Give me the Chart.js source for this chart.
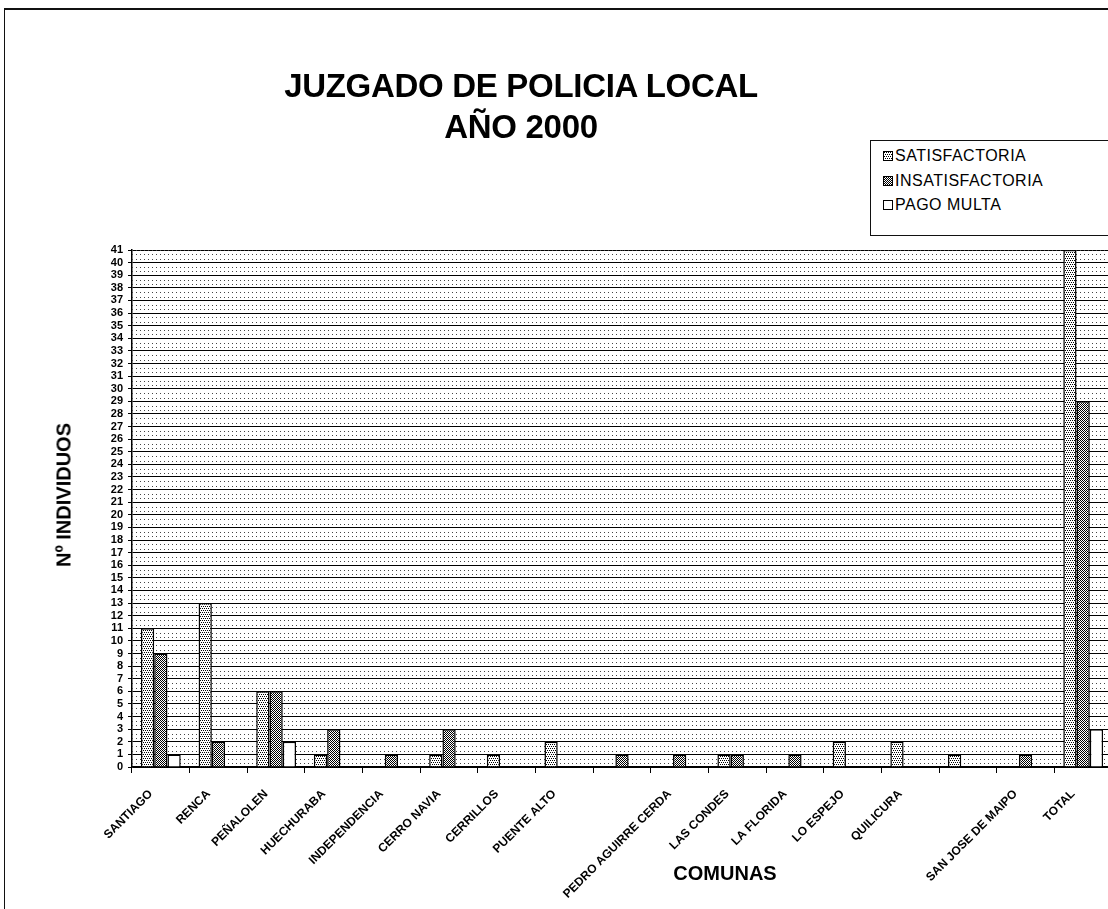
<!DOCTYPE html>
<html>
<head>
<meta charset="utf-8">
<script src="https://cdn.jsdelivr.net/npm/chart.js@4.4.0/dist/chart.umd.min.js"></script>
<style>
    html, body { margin: 0; padding: 0; background: #fff; overflow: hidden; }
    #wrap { position: relative; width: 1112px; height: 909px; font-family: 'Liberation Sans', Arial, sans-serif; color: #000; }
    #chart { position: absolute; left: 0; top: 0; }
    #frame { position: absolute; left: 4px; top: 8px; width: 1200px; height: 1000px; border-left: 1.5px solid #111; border-top: 2px solid #111; }
    #title { position: absolute; left: 521px; top: 65px; transform: translateX(-50%); text-align: center; font-weight: bold; font-size: 33px; line-height: 41px; letter-spacing: -0.3px; white-space: nowrap; }
    #legend { position: absolute; left: 870px; top: 140px; width: 260px; height: 94px; border: 1.5px solid #111; background: #fff; font-size: 16px; letter-spacing: 0.5px; }
    .item { position: absolute; left: 12px; display: flex; align-items: center; white-space: nowrap; }
    .sw { width: 8px; height: 8px; border: 1px solid #000; margin-right: 2px; }
    #ytitle { position: absolute; left: 64px; top: 495px; transform: translate(-50%, -50%) rotate(-90deg); font-weight: bold; font-size: 20px; white-space: nowrap; }
    #xtitle { position: absolute; left: 725px; top: 862px; transform: translateX(-50%); font-weight: bold; font-size: 20px; }
</style>
</head>
<body>
<div id="wrap">
    <div id="frame"></div>
    <canvas id="chart" width="1112" height="909"></canvas>
    <div id="title">JUZGADO DE POLICIA LOCAL<br>AÑO 2000</div>
    <div id="legend"></div>
    <div id="ytitle">Nº INDIVIDUOS</div>
    <div id="xtitle">COMUNAS</div>
</div>
<script>
// Data
const comunas = ['SANTIAGO', 'RENCA', 'PEÑALOLEN', 'HUECHURABA', 'INDEPENDENCIA', 'CERRO NAVIA', 'CERRILLOS',
    'PUENTE ALTO', '', 'PEDRO AGUIRRE CERDA', 'LAS CONDES', 'LA FLORIDA', 'LO ESPEJO', 'QUILICURA', '',
    'SAN JOSE DE MAIPO', 'TOTAL'];
const satisfactoria   = [11, 13, 6, 1, 0, 1, 1, 2, 0, 0, 1, 0, 2, 2, 1, 0, 41];
const insatisfactoria = [9, 2, 6, 3, 1, 3, 0, 0, 1, 1, 1, 1, 0, 0, 0, 1, 29];
const pagoMulta       = [1, 0, 2, 0, 0, 0, 0, 0, 0, 0, 0, 0, 0, 0, 0, 0, 3];
const seriesNames = ['SATISFACTORIA', 'INSATISFACTORIA', 'PAGO MULTA'];
const yMax = 41;

Chart.defaults.font.family = "'Liberation Sans', Arial, sans-serif";
Chart.defaults.color = '#000';

// Small dot tiles to imitate the printed fill patterns
function makeTile(dots, size) {
    const c = document.createElement('canvas');
    c.width = c.height = size;
    const g = c.getContext('2d');
    g.fillStyle = '#fff';
    g.fillRect(0, 0, size, size);
    g.fillStyle = '#000';
    dots.forEach(([x, y]) => g.fillRect(x, y, 1, 1));
    return c;
}
const satTile = makeTile([[0, 0], [2, 0], [1, 2], [3, 2]], 4);
const insatTile = makeTile([[0, 0], [2, 0], [1, 1], [3, 1], [0, 2], [2, 2], [1, 3], [3, 3]], 4);
const pagoTile = makeTile([], 4);
const tiles = [satTile, insatTile, pagoTile];

const ctx = document.getElementById('chart').getContext('2d');
const fills = tiles.map(t => ctx.createPattern(t, 'repeat'));

// Legend
const legend = document.getElementById('legend');
seriesNames.forEach((name, i) => {
    const item = document.createElement('div');
    item.className = 'item';
    item.style.top = (6 + i * 24.5) + 'px';
    item.innerHTML = `<span class="sw" style="background-image:url(${tiles[i].toDataURL()})"></span>${name}`;
    legend.appendChild(item);
});

// Dotted rows between the solid gridlines (and on the top line)
const dotGrid = {
    id: 'dotGrid',
    beforeDatasetsDraw(chart) {
        const { ctx, chartArea: a, scales: { y } } = chart;
        ctx.save();
        ctx.strokeStyle = '#444';
        ctx.lineWidth = 1;
        ctx.setLineDash([1, 3]);
        const rows = [yMax];
        for (let v = 0; v < yMax; v++) rows.push(v + 0.3, v + 0.65);
        rows.forEach(v => {
            const py = Math.round(y.getPixelForValue(v)) + 0.5;
            ctx.beginPath();
            ctx.moveTo(a.left, py);
            ctx.lineTo(a.right, py);
            ctx.stroke();
        });
        ctx.restore();
    }
};

new Chart(ctx, {
    type: 'bar',
    data: {
        labels: comunas,
        datasets: [satisfactoria, insatisfactoria, pagoMulta].map((d, i) => ({
            label: seriesNames[i],
            data: d,
            backgroundColor: fills[i],
            borderColor: '#000',
            borderWidth: 1.5
        }))
    },
    options: {
        responsive: false,
        animation: false,
        layout: { padding: { left: 0, right: 0, top: 250, bottom: 0 } },
        plugins: {
            legend: { display: false },
            title: { display: false },
            tooltip: { enabled: false }
        },
        datasets: { bar: { categoryPercentage: 0.69, barPercentage: 1.0 } },
        scales: {
            x: {
                grid: { drawOnChartArea: false, color: '#000', tickLength: 6 },
                border: { color: '#000', width: 1.5 },
                ticks: {
                    color: '#000',
                    font: { size: 12, weight: 'bold' },
                    minRotation: 45,
                    maxRotation: 45,
                    autoSkip: false,
                    padding: 14,
                    labelOffset: -10
                },
                afterFit: s => { s.height = 142; }
            },
            y: {
                min: 0,
                max: yMax,
                ticks: { stepSize: 1, autoSkip: false, color: '#000', font: { size: 11, weight: 'bold' }, padding: 5 },
                grid: {
                    color: c => (c.tick && c.tick.value === yMax && c.type === 'tick' ? '#000' : c.tick && c.tick.value === yMax ? 'rgba(0,0,0,0)' : '#000'),
                    tickLength: 4
                },
                border: { color: '#000', width: 1.5 },
                afterFit: s => { s.width = 132; }
            }
        }
    },
    plugins: [dotGrid]
});
</script>
</body>
</html>
